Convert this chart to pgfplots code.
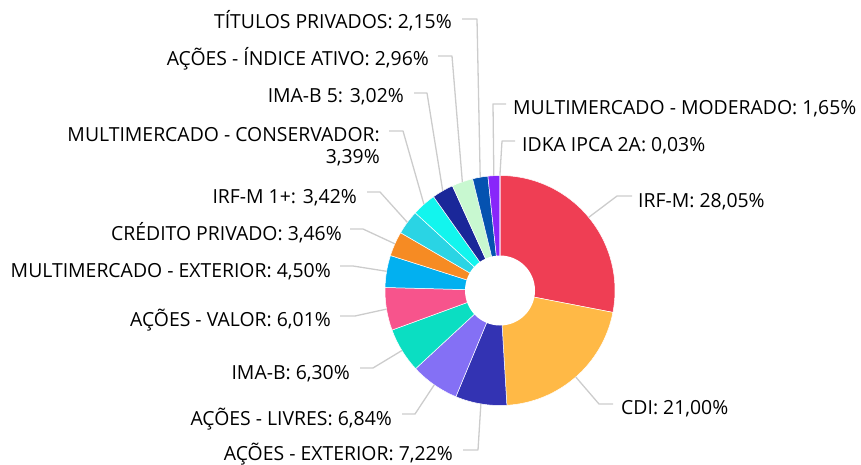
\documentclass[border=0pt]{standalone}
\usepackage{fontspec}
\setmainfont{Open Sans}
\usepackage{pgfplots}
\usepackage{pgfplotstable}
\pgfplotsset{compat=1.18}
\definecolor{c1}{HTML}{EF3E54}
\definecolor{c2}{HTML}{FFB946}
\definecolor{c3}{HTML}{3333B3}
\definecolor{c4}{HTML}{8470F5}
\definecolor{c5}{HTML}{0BDEC2}
\definecolor{c6}{HTML}{F7548C}
\definecolor{c7}{HTML}{02B0F0}
\definecolor{c8}{HTML}{F68B23}
\definecolor{c9}{HTML}{2AD4E4}
\definecolor{c10}{HTML}{12F5EE}
\definecolor{c11}{HTML}{1A2799}
\definecolor{c12}{HTML}{C8F8D0}
\definecolor{c13}{HTML}{0552B0}
\definecolor{c14}{HTML}{8826FA}
\definecolor{c15}{HTML}{D040F0}
\definecolor{leader}{HTML}{CCCCCC}
\pgfplotstableread[col sep=semicolon]{
value;col;ex;ly;hx;tx;ty;anc;label
28.05;c1;617;196;632;638;207;base west;IRF-M: 28,05\%
21.00;c2;599;404;613;621;414;base west;CDI: 21,00\%
7.22;c3;478;450;463;453;460;base east;AÇÕES - EXTERIOR: 7,22\%
6.84;c4;415;414;402;392;425;base east;AÇÕES - LIVRES: 6,84\%
6.30;c5;373;368;360;350;379;base east;IMA-B: 6,30\%
6.01;c6;355;316;340;331;326;base east;AÇÕES - VALOR: 6,01\%
4.50;c7;353;266;340;331;277;base east;MULTIMERCADO - EXTERIOR: 4,50\%
3.46;c8;363;229;350;342;240;base east;CRÉDITO PRIVADO: 3,46\%
3.42;c9;380;192;367;357;203;base east;IRF-M 1+: 3,42\%
3.39;c10;403;131;389;380;164;base east;MULTIMERCADO - CONSERVADOR:\\3,39\%
3.02;c11;427;93;414;404;103;base east;IMA-B 5: 3,02\%
2.96;c12;452;56;438;429;66;base east;AÇÕES - ÍNDICE ATIVO: 2,96\%
2.15;c13;477;19;462;452;29;base east;TÍTULOS PRIVADOS: 2,15\%
1.65;c14;493;104;506;513;115;base west;MULTIMERCADO - MODERADO: 1,65\%
0.03;c15;502;141;515;522;152;base west;IDKA IPCA 2A: 0,03\%
}\data
\begin{document}
\begin{tikzpicture}[every node/.append style={font=\fontsize{19.4}{22}\selectfont, text=black}]
\begin{axis}[scale only axis, width=861pt, height=465pt,
  xmin=0, xmax=861, ymin=0, ymax=465, y dir=reverse,
  hide axis, clip=false]
\def\cum{0}
\pgfplotsforeachungrouped \i in {0,...,14}{%
  \pgfplotstablegetelem{\i}{value}\of\data \pgfmathsetmacro\v{\pgfplotsretval}%
  \pgfmathsetmacro\aone{90-3.6*\cum}%
  \pgfmathsetmacro\atwo{\aone-3.6*\v}%
  \pgfmathsetmacro\cumnew{\cum+\v}\let\cum\cumnew
  \pgfplotstablegetelem{\i}{col}\of\data \edef\c{\pgfplotsretval}%
  \edef\cmd{\noexpand\fill[\c, draw=white, line width=0.5pt] (axis cs:500,290.5) ++(\aone:115pt) arc[start angle=\aone, end angle=\atwo, radius=115pt] -- (axis cs:500,290.5) -- cycle;}%
  \cmd
}
\def\cum{0}
\pgfplotsforeachungrouped \i in {0,...,14}{%
  \pgfplotstablegetelem{\i}{value}\of\data \pgfmathsetmacro\v{\pgfplotsretval}%
  \pgfmathsetmacro\amid{90-3.6*\cum-1.8*\v}%
  \pgfmathsetmacro\cumnew{\cum+\v}\let\cum\cumnew
  \pgfplotstablegetelem{\i}{ex}\of\data \edef\ex{\pgfplotsretval}%
  \pgfplotstablegetelem{\i}{ly}\of\data \edef\ly{\pgfplotsretval}%
  \pgfplotstablegetelem{\i}{hx}\of\data \edef\hx{\pgfplotsretval}%
  \pgfplotstablegetelem{\i}{tx}\of\data \edef\tx{\pgfplotsretval}%
  \pgfplotstablegetelem{\i}{ty}\of\data \edef\ty{\pgfplotsretval}%
  \pgfplotstablegetelem{\i}{anc}\of\data \edef\anc{\pgfplotsretval}%
  \pgfplotstablegetelem{\i}{label}\of\data \let\lab\pgfplotsretval
  \edef\cmd{\noexpand\draw[leader, line width=1.3pt, line join=round] (axis cs:500,290.5) ++(\amid:115pt) -- (axis cs:\ex,\ly) -- (axis cs:\hx,\ly);
    \noexpand\node[anchor=\anc, inner sep=0pt, align=right] at (axis cs:\tx,\ty) {\unexpanded\expandafter{\lab}};}%
  \cmd
}
\fill[white] (axis cs:500,290.5) circle[radius=35pt];
\end{axis}
\pgfresetboundingbox
\path (current axis.south west) rectangle (current axis.north east);
\end{tikzpicture}
\end{document}
